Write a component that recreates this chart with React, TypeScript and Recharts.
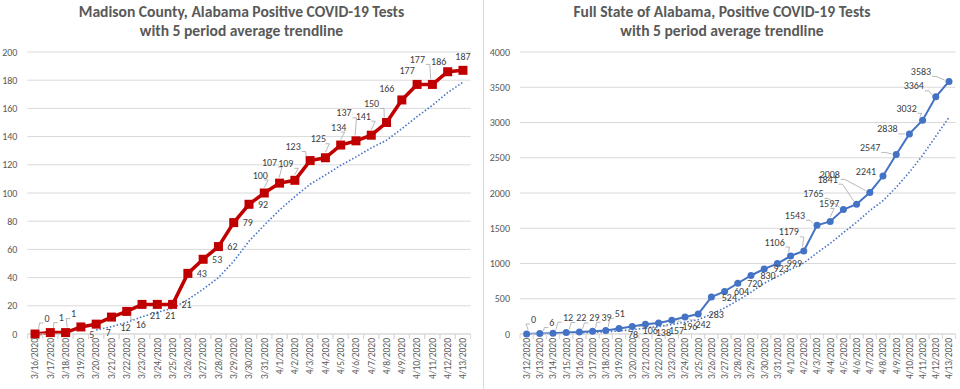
import React from 'react';
import { LineChart, Line, XAxis, YAxis, CartesianGrid } from 'recharts';

// Madison County, 3/16 - 4/13
const madisonDates = [
  '3/16/2020', '3/17/2020', '3/18/2020', '3/19/2020', '3/20/2020', '3/21/2020', '3/22/2020', '3/23/2020',
  '3/24/2020', '3/25/2020', '3/26/2020', '3/27/2020', '3/28/2020', '3/29/2020', '3/30/2020', '3/31/2020',
  '4/1/2020', '4/2/2020', '4/3/2020', '4/4/2020', '4/5/2020', '4/6/2020', '4/7/2020', '4/8/2020',
  '4/9/2020', '4/10/2020', '4/11/2020', '4/12/2020', '4/13/2020',
];
const madisonCases = [
  0, 1, 1, 5, 7, 12, 16, 21, 21, 21, 43, 53, 62, 79, 92, 100,
  107, 109, 123, 125, 134, 137, 141, 150, 166, 177, 177, 186, 187,
];
const madisonTrend = [
  null, null, null, null, 2.8, 5.2, 8.2, 12.2, 15.4, 18.2, 24.4, 31.8, 40, 51.6, 65.8, 77.2,
  88, 97.4, 106.2, 112.8, 119.6, 125.6, 132, 137.4, 145.6, 154.2, 162.2, 171.2, 178.6,
];
const madisonTicks = [0, 20, 40, 60, 80, 100, 120, 140, 160, 180, 200];

// Full state, 3/12 - 4/13
const stateDates = [
  '3/12/2020', '3/13/2020', '3/14/2020', '3/15/2020', '3/16/2020', '3/17/2020', '3/18/2020', '3/19/2020',
  '3/20/2020', '3/21/2020', '3/22/2020', '3/23/2020', '3/24/2020', '3/25/2020', '3/26/2020', '3/27/2020',
  '3/28/2020', '3/29/2020', '3/30/2020', '3/31/2020', '4/1/2020', '4/2/2020', '4/3/2020', '4/4/2020',
  '4/5/2020', '4/6/2020', '4/7/2020', '4/8/2020', '4/9/2020', '4/10/2020', '4/11/2020', '4/12/2020', '4/13/2020',
];
const stateCases = [
  0, 6, 12, 22, 29, 39, 51, 78, 106, 138, 157, 196, 242, 283, 524, 604, 720, 830, 923, 999,
  1106, 1179, 1543, 1597, 1765, 1841, 2008, 2241, 2547, 2838, 3032, 3364, 3583,
];
const stateTrend = [
  null, null, null, null, 13.8, 21.6, 30.6, 43.8, 60.6, 82.4, 106, 135, 167.8, 203.2, 280.4, 369.8,
  474.6, 592.2, 720.2, 815.2, 915.6, 1007.4, 1150, 1284.8, 1438, 1585, 1750.8, 1890.4, 2080.4, 2295,
  2533.2, 2804.4, 3072.8,
];
const stateTicks = [0, 500, 1000, 1500, 2000, 2500, 3000, 3500, 4000];

// where Excel moved each data label, relative to its point
const madisonLabelPos = [
  [12, -16], [11, -15], [8, -19], [11, 8], [12, 8], [14, 10], [14, 13], [13, 11], [13, 11], [14, 0],
  [14, 0], [14, 0], [14, 0], [14, 0], [14, 0], [-4, -18], [-10, -21], [-9, -17], [-17, -14], [-7, -19],
  [-2, -18], [-12, -28], [-8, -19], [-15, -19], [-15, -11], [-10, -14], [-15, -25], [-9, -10], [0, -14],
];
const stateLabelPos = [
  [7, -15], [12, -11], [15, -16], [15, -15], [15, -14], [14, -14], [14, -17], [14, 6], [18, 4], [18, 8],
  [18, 8], [18, 6], [18, 8], [18, 0], [18, 0], [17, 0], [17, 0], [17, 0], [17, 0], [17, 0],
  [-16, -14], [-15, -19], [-22, -10], [-1, -18], [-30, -16], [-29, -25], [-40, -18], [-17, -5],
  [-26, -7], [-22, -5], [-16, -12], [-22, -11], [-28, -10],
];

const FONT = 'Carlito, "Liberation Sans", Arial, sans-serif';
const GRID = '#d9d9d9';
const TEXT = '#595959';
const TREND = '#4472C4';

const DateTick = (props: any) => {
  const { x, y, payload, step } = props;
  return (
    <g>
      <line x1={x - step / 2} y1={y - 8} x2={x - step / 2} y2={y - 3} stroke={GRID} />
      <line x1={x + step / 2} y1={y - 8} x2={x + step / 2} y2={y - 3} stroke={GRID} />
      <text
        x={x}
        y={y - 4}
        transform={`rotate(-90, ${x}, ${y - 4})`}
        textAnchor="end"
        dy="0.35em"
        fill={TEXT}
        fontSize={9.5}
        fontFamily={FONT}
      >
        {payload.value}
      </text>
    </g>
  );
};

const makeLabel = (offsets: number[][], markerR: number) => (props: any) => {
  const { x, y, value, index } = props;
  if (value == null || x == null) return null;
  const [dx, dy] = offsets[index] || [12, 0];
  const lx = x + dx;
  const ly = y + dy;
  const w = String(value).length * 5;
  const h = 10;
  // leader line to nearest edge of label box
  const bx = Math.max(lx - w / 2 - 1, Math.min(x, lx + w / 2 + 1));
  const by = Math.max(ly - h / 2, Math.min(y, ly + h / 2));
  const dist = Math.hypot(bx - x, by - y);
  let leader = null;
  if (dist > markerR + 5 && Math.abs(dy) > 3) {
    const sx = x + ((bx - x) / dist) * (markerR + 1);
    const sy = y + ((by - y) / dist) * (markerR + 1);
    const mid = bx + (lx > x ? -4 : 4);
    leader = (
      <polyline
        points={`${sx},${sy} ${mid},${by} ${bx},${by}`}
        fill="none"
        stroke="#a6a6a6"
        strokeWidth={0.8}
      />
    );
  }
  return (
    <g key={`lbl-${index}`}>
      {leader}
      <text x={lx} y={ly} dy="0.35em" textAnchor="middle" fill="#404040" fontSize={10} fontFamily={FONT}>
        {value}
      </text>
    </g>
  );
};

interface PanelProps {
  title: string[];
  dates: string[];
  cases: number[];
  trend: (number | null)[];
  ticks: number[];
  labelPos: number[][];
  width: number;
  yWidth: number;
  right: number;
  color: string;
  square: boolean;
}

const Panel = ({ title, dates, cases, trend, ticks, labelPos, width, yWidth, right, color, square }: PanelProps) => {
  const data = dates.map((d, i) => ({ date: d, cases: cases[i], trend: trend[i] }));
  const plotW = width - yWidth - right;
  const step = plotW / dates.length;
  const markerR = square ? 4.5 : 3.5;

  const dot = (p: any) =>
    square ? (
      <rect key={`dot-${p.index}`} x={p.cx - 4.5} y={p.cy - 4.5} width={9} height={9} fill={color} />
    ) : (
      <circle key={`dot-${p.index}`} cx={p.cx} cy={p.cy} r={3.5} fill={color} />
    );

  return (
    <div style={{ position: 'relative', width, height: 389 }}>
      <div
        style={{
          position: 'absolute',
          left: 0,
          top: 2,
          width,
          textAlign: 'center',
          fontFamily: FONT,
          fontWeight: 'bold',
          fontSize: 15.6,
          lineHeight: '19px',
          color: TEXT,
        }}
      >
        <div>{title[0]}</div>
        <div>{title[1]}</div>
      </div>
      <LineChart width={width} height={389} data={data} margin={{ top: 52, right, bottom: 0, left: 0 }}>
        <CartesianGrid vertical={false} stroke={GRID} />
        <XAxis
          dataKey="date"
          interval={0}
          height={55}
          padding={{ left: step / 2, right: step / 2 }}
          tickLine={false}
          axisLine={{ stroke: GRID }}
          tick={<DateTick step={step} />}
        />
        <YAxis
          width={yWidth}
          domain={[ticks[0], ticks[ticks.length - 1]]}
          ticks={ticks}
          axisLine={false}
          tickLine={false}
          tickMargin={4}
          tick={{ fill: TEXT, fontSize: 10, fontFamily: FONT }}
        />
        <Line
          dataKey="trend"
          stroke={TREND}
          strokeWidth={1.6}
          strokeDasharray="1.5 2"
          dot={false}
          activeDot={false}
          isAnimationActive={false}
          connectNulls={false}
        />
        <Line
          dataKey="cases"
          stroke={color}
          strokeWidth={square ? 3.5 : 2}
          dot={dot}
          activeDot={false}
          isAnimationActive={false}
          label={makeLabel(labelPos, markerR)}
        />
      </LineChart>
    </div>
  );
};

export default function App() {
  return (
    <div style={{ position: 'absolute', left: 0, top: 0, width: 960, height: 389, background: '#fff' }}>
      <div style={{ position: 'absolute', left: 0, top: 0 }}>
        <Panel
          title={['Madison County, Alabama Positive COVID-19 Tests', 'with 5 period average trendline']}
          dates={madisonDates}
          cases={madisonCases}
          trend={madisonTrend}
          ticks={madisonTicks}
          labelPos={madisonLabelPos}
          width={483}
          yWidth={27.4}
          right={12.4}
          color="#C00000"
          square
        />
      </div>
      <div style={{ position: 'absolute', left: 483, top: 0, width: 1, height: 389, background: GRID }} />
      <div style={{ position: 'absolute', left: 484, top: 0 }}>
        <Panel
          title={['Full State of Alabama, Positive COVID-19 Tests', 'with 5 period average trendline']}
          dates={stateDates}
          cases={stateCases}
          trend={stateTrend}
          ticks={stateTicks}
          labelPos={stateLabelPos}
          width={476}
          yWidth={36}
          right={4.4}
          color="#4472C4"
          square={false}
        />
      </div>
    </div>
  );
}
